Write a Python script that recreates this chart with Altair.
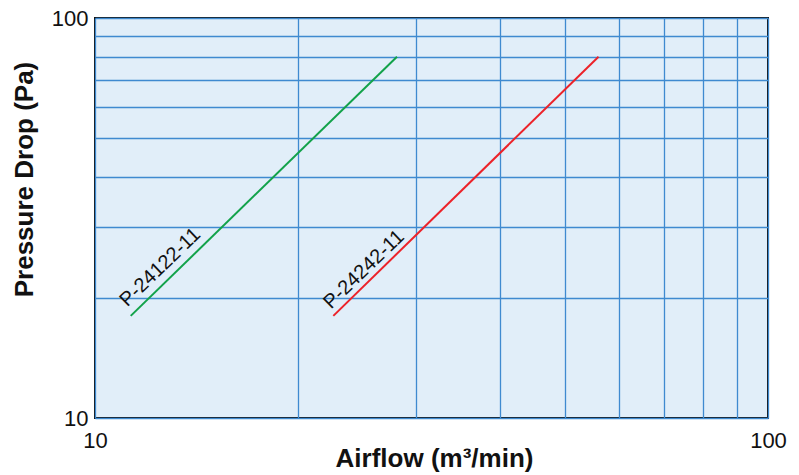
import altair as alt
import pandas as pd

# Data (log-log)
series = ["P-24122-11", "P-24122-11", "P-24242-11", "P-24242-11"]
airflow = [11.3, 28.1, 22.6, 56.0]
pressure = [18.0, 80.0, 18.0, 80.0]

label_text = ["P-24122-11", "P-24242-11"]
label_x = [12.5, 25.1]
label_y = [23.8, 23.5]

grid_vals = [10, 20, 30, 40, 50, 60, 70, 80, 90, 100]

lines_df = pd.DataFrame({"series": series, "airflow": airflow, "pressure": pressure})
labels_df = pd.DataFrame({"label": label_text, "x": label_x, "y": label_y})

FONT = "Liberation Sans"
label_expr = "datum.value == 10 || datum.value == 100 ? format(datum.value, 'd') : ''"

xscale = alt.Scale(type="log", domain=[10, 100], nice=False)
yscale = alt.Scale(type="log", domain=[10, 100], nice=False)

xaxis = alt.Axis(
    values=grid_vals, labelExpr=label_expr, grid=True, gridColor="#3f8ad0",
    gridWidth=1.3, ticks=False, domain=False, labelFont=FONT, labelFontSize=22,
    labelColor="#111", labelPadding=12, labelFlush=False, labelOverlap=False,
    labelBound=False, title="Airflow (m³/min)", titleFont=FONT, titleFontSize=26,
    titleFontWeight="bold", titleColor="#111", titleY=48, titleX=339,
    titleBaseline="alphabetic", titleAlign="center",
)
yaxis = alt.Axis(
    values=grid_vals, labelExpr=label_expr, grid=True, gridColor="#3f8ad0",
    gridWidth=1.3, ticks=False, domain=False, labelFont=FONT, labelFontSize=22,
    labelColor="#111", labelPadding=7, labelFlush=False, labelOverlap=False,
    labelBound=False, title="Pressure Drop (Pa)", titleFont=FONT, titleFontSize=26,
    titleFontWeight="bold", titleColor="#111", titleX=-63, titleY=161,
    titleAngle=270, titleBaseline="alphabetic", titleAlign="center",
)

lines = alt.Chart(lines_df).mark_line(strokeWidth=2).encode(
    x=alt.X("airflow:Q", scale=xscale, axis=xaxis),
    y=alt.Y("pressure:Q", scale=yscale, axis=yaxis),
    color=alt.Color("series:N", scale=alt.Scale(domain=label_text, range=["#12a24a", "#ec2229"]), legend=None),
    detail="series:N",
)

texts = alt.Chart(labels_df).mark_text(
    font=FONT, fontSize=20, angle=316, color="#111", align="center", baseline="middle"
).encode(
    x=alt.X("x:Q", scale=xscale),
    y=alt.Y("y:Q", scale=yscale),
    text="label:N",
)

chart = alt.layer(lines, texts).properties(
    width=673, height=400,
    autosize=alt.AutoSizeParams(type="none"),
    padding={"left": 87, "top": 10, "right": 23, "bottom": 56},
    background="white",
).configure_view(fill="#e1eef9", stroke="#111", strokeWidth=2)

chart.save("out.html", embed_options={"renderer": "svg", "actions": False})
